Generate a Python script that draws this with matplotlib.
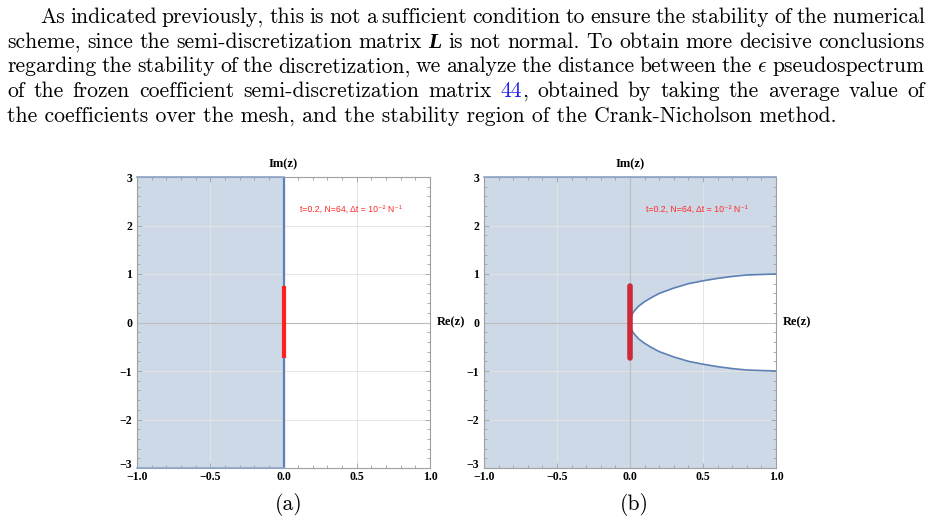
import numpy as np
import matplotlib
matplotlib.use("Agg")
import matplotlib.pyplot as plt
import matplotlib.transforms as mtransforms
from matplotlib.ticker import MultipleLocator

plt.rcParams['mathtext.fontset'] = 'cm'

# paragraph above the figure (one entry per printed line)
para_lines = [
    "As indicated previously, this is not a sufficient condition to ensure the stability of the numerical",
    "scheme, since the semi-discretization matrix @L is not normal.  To obtain more decisive conclusions",
    "regarding the stability of the discretization, we analyze the distance between the $\\epsilon$ pseudospectrum",
    "of the frozen coefficient semi-discretization matrix #44, obtained by taking the average value of",
    "the coefficients over the mesh, and the stability region of the Crank-Nicholson method.",
]
captions = ["(a)", "(b)"]

# axes
x_ticks = [-1.0, -0.5, 0.0, 0.5, 1.0]
x_tick_labels = ["\u22121.0", "\u22120.5", "0.0", "0.5", "1.0"]
y_ticks = [-3, -2, -1, 0, 1, 2, 3]
y_tick_labels = ["\u22123", "\u22122", "\u22121", "0", "1", "2", "3"]
annot = "t=0.2, N=64, \u0394t = 10\u207b\u00b2 N\u207b\u00b9"

# eigenvalues of the frozen coefficient matrix (spread on the imaginary axis)
eig_re = [0.0, 0.0]
eig_im = [-0.74, 0.76]

# boundary of the stability region in panel (b), upper branch (lower is mirrored)
bnd_x = [0.0, 0.002, 0.005, 0.01, 0.02, 0.03, 0.06, 0.10, 0.15, 0.20, 0.30, 0.40, 0.50, 0.60, 0.70, 0.80, 0.90, 1.00]
bnd_y = [0.0, 0.063, 0.10, 0.14, 0.20, 0.24, 0.34, 0.43, 0.52, 0.60, 0.71, 0.80, 0.86, 0.91, 0.95, 0.98, 0.99, 1.00]

shade = "#cdd9e7"
blue = "#5e81b5"
gray = "#a0a0a0"

W, H = 931, 523
fig = plt.figure(figsize=(W / 100, H / 100), dpi=100)


def add_ax(l, t, r, b):
    return fig.add_axes([l / W, 1 - b / H, (r - l) / W, (b - t) / H])


tick_font = {'family': 'Liberation Serif', 'weight': 'bold', 'size': 8.5}


def style(ax):
    ax.set_xlim(-1, 1)
    ax.set_ylim(-3, 3)
    ax.set_axisbelow('line')
    ax.xaxis.set_minor_locator(MultipleLocator(0.1))
    ax.yaxis.set_minor_locator(MultipleLocator(0.2))
    ax.set_xticks(x_ticks)
    ax.set_xticklabels(x_tick_labels, fontdict=tick_font)
    ax.set_yticks(y_ticks)
    ax.set_yticklabels(y_tick_labels, fontdict=tick_font)
    ax.tick_params(which='both', direction='in', top=True, right=True, color=gray, width=0.6)
    ax.tick_params(which='major', length=3.5)
    ax.tick_params(which='minor', length=2)
    ax.tick_params(axis='x', pad=2.5)
    ax.tick_params(axis='y', pad=3.5)
    # lift the lowest y label a little so it sits above the first x label
    lab = ax.get_yticklabels()[0]
    lab.set_transform(lab.get_transform() + mtransforms.ScaledTranslation(0, 3 / 72, fig.dpi_scale_trans))
    for s in ax.spines.values():
        s.set_color(gray)
        s.set_linewidth(0.8)
    ax.grid(True, which='major', color='#e4e4e4', lw=0.7)
    ax.axhline(0, color='#bcbcbc', lw=0.8, zorder=1.6)
    ax.axvline(0, color='#bcbcbc', lw=0.8, zorder=1.6)
    ax.annotate("Im(z)", xy=(0, 3), xytext=(0, 5), textcoords='offset points',
                ha='center', va='bottom', fontsize=9, fontfamily='Liberation Serif',
                fontweight='bold', annotation_clip=False)
    ax.annotate("Re(z)", xy=(1, 0), xytext=(5, 0), textcoords='offset points',
                ha='left', va='center', fontsize=9, fontfamily='Liberation Serif',
                fontweight='bold', annotation_clip=False)
    ax.text(0.46, 2.33, annot, color='#ff2a2a', fontsize=6.3, ha='center', va='center',
            family=['Liberation Sans', 'DejaVu Sans'], zorder=6)


# panel (a): left half plane
ax_a = add_ax(137, 177, 430, 468)
style(ax_a)
ax_a.fill_between([-1, 0], -3, 3, color=shade, lw=0, zorder=1)
ax_a.plot([-1, 0], [3, 3], color='#8ea6c8', lw=1.2, zorder=4, clip_on=False)
ax_a.plot([-1, 0], [-3, -3], color='#8ea6c8', lw=1.2, zorder=4, clip_on=False)
ax_a.plot([0, 0], [-3, 3], color=blue, lw=1.6, zorder=3)
ax_a.plot(eig_re, eig_im, color='#ff2020', lw=3, zorder=5, solid_capstyle='butt')

# panel (b): outside of the curve
ax_b = add_ax(484, 177, 776, 468)
style(ax_b)
bx = np.array(bnd_x)
by = np.array(bnd_y)
ax_b.fill_between([-1, 1], -3, 3, color=shade, lw=0, zorder=1)
ax_b.fill_between(bx, -by, by, color='white', lw=0, zorder=1.1)
ax_b.plot([-1, 1], [3, 3], color='#8ea6c8', lw=1.2, zorder=4, clip_on=False)
ax_b.plot(bx, by, color=blue, lw=1.2, zorder=3)
ax_b.plot(bx, -by, color=blue, lw=1.2, zorder=3)
ax_b.plot(eig_re, eig_im, color='#cc2a38', lw=4, zorder=5, solid_capstyle='round')

# ---- paragraph, justified word by word ----
renderer = fig.canvas.get_renderer()


def wpx(t):
    return t.get_window_extent(renderer=renderer).width


probe = fig.text(0, 0, para_lines[-1], family='cmr10', fontsize=10)
fs = 10 * 825 / wpx(probe)
probe.remove()

left_first, left, right = 40, 7, 925
base_y = [23, 47.6, 72.2, 96.8, 121.4]


def pieces_for(word):
    if word.startswith('@'):
        return [(word[1:], dict(family='Liberation Serif', weight='bold', style='italic', color='black'))]
    if word.startswith('#'):
        return [(word[1:3], dict(family='cmr10', color='#2020ee')),
                (word[3:], dict(family='cmr10', color='black'))]
    return [(word, dict(family='cmr10', color='black'))]


for i, line in enumerate(para_lines):
    y = 1 - base_y[i] / H
    x0 = left_first if i == 0 else left
    if i == len(para_lines) - 1:
        fig.text(x0 / W, y, line, family='cmr10', fontsize=fs, va='baseline')
        continue
    words = line.split()
    made = []
    total = 0
    for w in words:
        ts = []
        ww = 0
        for s, kw in pieces_for(w):
            t = fig.text(0, y, s, fontsize=fs, va='baseline', **kw)
            pw = wpx(t)
            ts.append((t, pw))
            ww += pw
        made.append((ts, ww))
        total += ww
    gap = (right - x0 - total) / (len(words) - 1)
    x = x0
    for ts, ww in made:
        xp = x
        for t, pw in ts:
            t.set_x(xp / W)
            xp += pw
        x += ww + gap

fig.text(289 / W, 1 - 505 / H, captions[0], family='cmr10', fontsize=fs, ha='center', va='center')
fig.text(634 / W, 1 - 505 / H, captions[1], family='cmr10', fontsize=fs, ha='center', va='center')

fig.savefig("out.png", dpi=100)
